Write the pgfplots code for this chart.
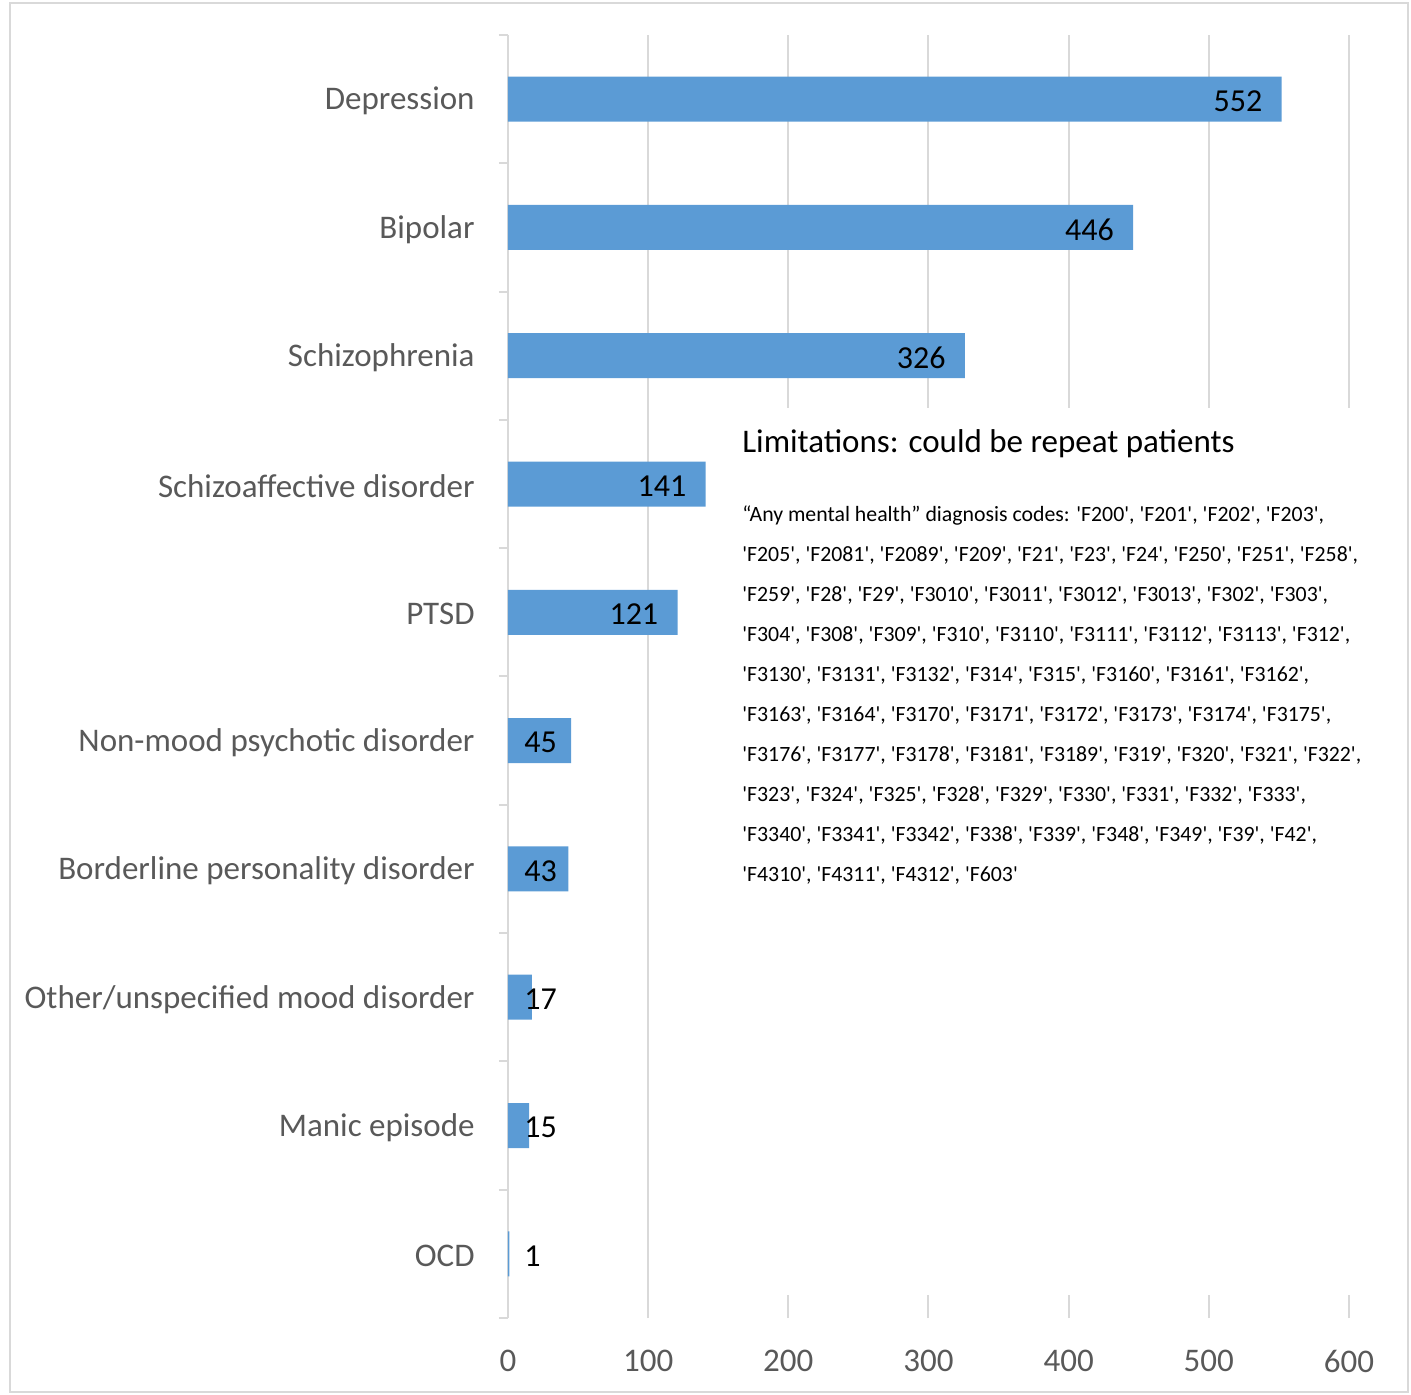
\documentclass[border=0pt]{standalone}
\usepackage{pgfplots}
\pgfplotsset{compat=1.18}
\usepackage{fontspec}
\setmainfont{Carlito}
\definecolor{barblue}{HTML}{5B9BD5}
\definecolor{gridgray}{HTML}{D9D9D9}
\definecolor{labgray}{HTML}{595959}
\newcommand{\q}[1]{\textquotesingle #1\textquotesingle}
\begin{document}
\begin{tikzpicture}
\begin{axis}[
  scale only axis, width=420.5bp, height=641.5bp,
  xmin=0, xmax=600, ymin=-0.5, ymax=9.5,
  clip=false,
  axis lines*=left,
  x axis line style={draw=none},
  y axis line style={draw=gridgray, line width=1bp, -},
  xtick={0,100,...,600},
  /pgf/number format/assume math mode=true,
  xmajorgrids,
  major grid style={draw=gridgray, line width=1bp},
  major tick length=0pt,
  ytick={0,...,9},
  yticklabels={OCD, Manic episode, Other/unspecified mood disorder, Borderline personality disorder, Non-mood psychotic disorder, PTSD, Schizoaffective disorder, Schizophrenia, Bipolar, Depression},
  minor ytick={-0.5,0.5,...,9.5},
  minor tick length=4.5bp,
  tick align=outside,
  minor y tick style={draw=gridgray, line width=1bp},
  ticklabel style={font=\fontsize{16.5bp}{20bp}\selectfont, text=labgray},
  yticklabel style={inner sep=0pt, xshift=-16.5bp, yshift=-1bp},
  xticklabel style={inner sep=0pt, yshift=-16bp},
  bar width=22.5bp,
]
\addplot[xbar, fill=barblue, draw=none, bar shift=0pt] coordinates {
  (552,9) (446,8) (326,7) (141,6) (121,5) (45,4) (43,3) (17,2) (15,1) (1,0)};
% labels inside bar ends
\addplot[draw=none, mark=none, nodes near coords, point meta=explicit symbolic,
  nodes near coords style={anchor=east, inner sep=0pt, xshift=-9.5bp, yshift=-1bp,
    font=\fontsize{16bp}{20bp}\selectfont, text=black}] coordinates {
  (552,9)[552] (446,8)[446] (326,7)[326] (141,6)[141] (121,5)[121]};
% labels of short bars, set from the axis base
\addplot[draw=none, mark=none, nodes near coords, point meta=explicit symbolic,
  nodes near coords style={anchor=west, inner sep=0pt, xshift=8bp, yshift=-1bp,
    font=\fontsize{16bp}{20bp}\selectfont, text=black}] coordinates {
  (0,4)[45] (0,3)[43] (0,2)[17] (0,1)[15] (0,0)[1]};
\fill[white] (axis cs:155,6.593) rectangle (axis cs:626,-0.321);
\node[anchor=base west, inner sep=0pt, font=\fontsize{16.5bp}{20bp}\selectfont, text=black]
  at (axis cs:166.9,6.242) {Limitations: could be repeat patients};
\node[anchor=north west, inner sep=0pt, align=left, font=\fontsize{10.9bp}{20bp}\selectfont, text=black]
  at (axis cs:166.9,5.83) {“Any mental health” diagnosis codes: \q{F200}, \q{F201}, \q{F202}, \q{F203},\\
\q{F205}, \q{F2081}, \q{F2089}, \q{F209}, \q{F21}, \q{F23}, \q{F24}, \q{F250}, \q{F251}, \q{F258},\\
\q{F259}, \q{F28}, \q{F29}, \q{F3010}, \q{F3011}, \q{F3012}, \q{F3013}, \q{F302}, \q{F303},\\
\q{F304}, \q{F308}, \q{F309}, \q{F310}, \q{F3110}, \q{F3111}, \q{F3112}, \q{F3113}, \q{F312},\\
\q{F3130}, \q{F3131}, \q{F3132}, \q{F314}, \q{F315}, \q{F3160}, \q{F3161}, \q{F3162},\\
\q{F3163}, \q{F3164}, \q{F3170}, \q{F3171}, \q{F3172}, \q{F3173}, \q{F3174}, \q{F3175},\\
\q{F3176}, \q{F3177}, \q{F3178}, \q{F3181}, \q{F3189}, \q{F319}, \q{F320}, \q{F321}, \q{F322},\\
\q{F323}, \q{F324}, \q{F325}, \q{F328}, \q{F329}, \q{F330}, \q{F331}, \q{F332}, \q{F333},\\
\q{F3340}, \q{F3341}, \q{F3342}, \q{F338}, \q{F339}, \q{F348}, \q{F349}, \q{F39}, \q{F42},\\
\q{F4310}, \q{F4311}, \q{F4312}, \q{F603}};
\draw[gridgray, line width=1bp] ([xshift=-249bp,yshift=-37bp]rel axis cs:0,0) rectangle ([xshift=29.5bp,yshift=16bp]rel axis cs:1,1);
\path ([xshift=-254bp,yshift=-38.5bp]rel axis cs:0,0) rectangle ([xshift=31bp,yshift=17.5bp]rel axis cs:1,1);
\end{axis}
\end{tikzpicture}
\end{document}
